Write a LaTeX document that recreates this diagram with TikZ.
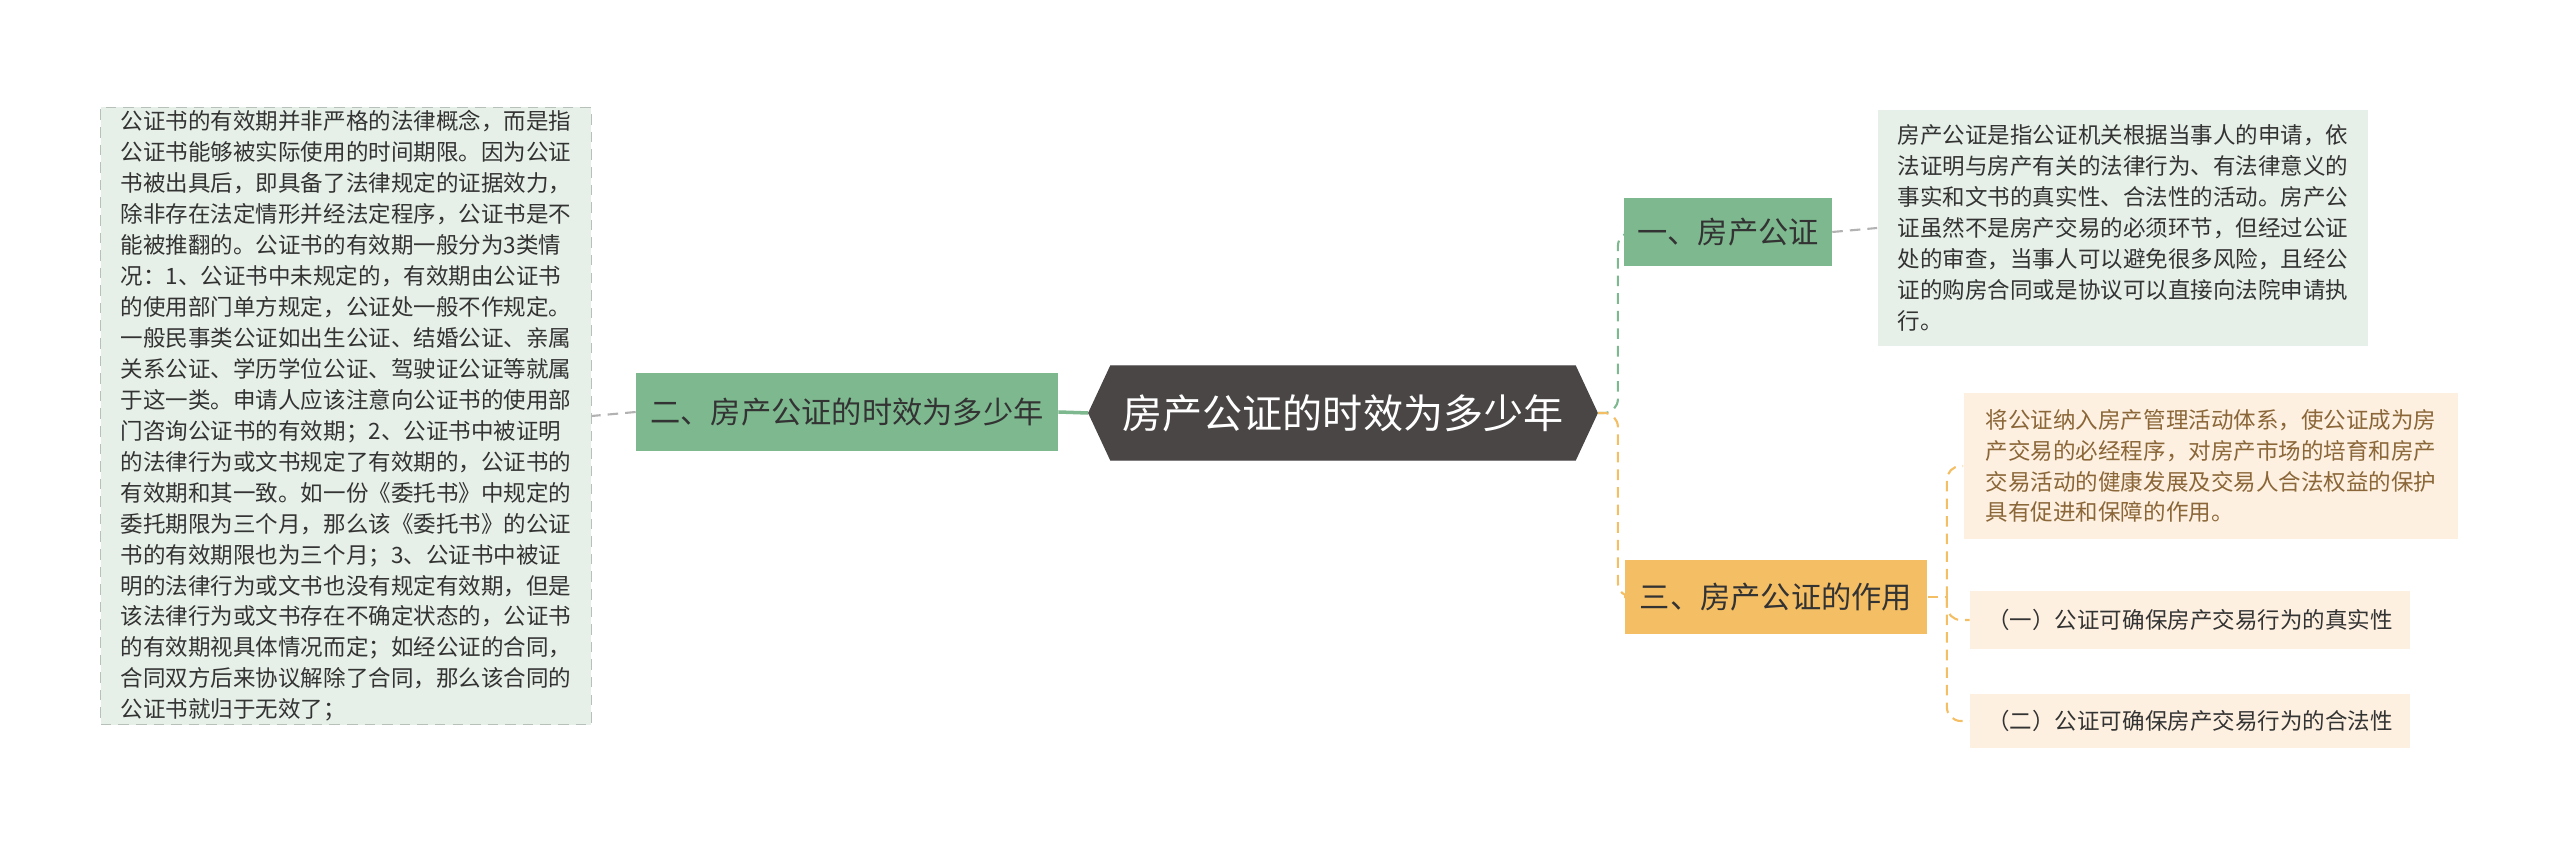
\documentclass[tikz,border=0pt]{standalone}
\usepackage{fontspec}
\setmainfont{Noto Sans CJK SC}
\usetikzlibrary{shapes.symbols}
\definecolor{hubgray}{HTML}{4A4646}
\definecolor{leafgreen}{HTML}{7DB88F}
\definecolor{palegreen}{HTML}{E6F0E8}
\definecolor{leaforange}{HTML}{F3BE64}
\definecolor{paleorange}{HTML}{FDF0E0}
\definecolor{txtbrown}{HTML}{8A6638}
\tikzset{
  topic/.style={minimum height=0.7cm, inner sep=3pt, font=\fontsize{8.6pt}{10pt}\selectfont, text=black!80},
  notebox/.style={align=left, inner sep=0pt, font=\fontsize{6.4pt}{8.8pt}\selectfont, text=black!80},
  link/.style={line width=0.6pt, dashed, dash pattern=on 3pt off 2pt}
}
\begin{document}
\begin{tikzpicture}[x=0.01cm,y=-0.01cm]
    \useasboundingbox (0,0) rectangle (2560,849);
    % centre
    \node[shape=signal, signal to=west and east, signal pointer angle=130, fill=hubgray, draw=hubgray, text=white,
          minimum width=4.82cm, minimum height=0.94cm, font=\fontsize{11.4pt}{13pt}\selectfont] (hub) at (1343,413) {房产公证的时效为多少年};
    % left branch
    \node[topic, fill=leafgreen, minimum width=4.21cm, minimum height=0.77cm] (two) at (847,412) {二、房产公证的时效为多少年};
    \node[fill=palegreen, draw=palegreen!80!black, densely dashed, line width=0.3pt, minimum width=4.9cm, minimum height=6.17cm] (twobox) at (346,416) {};
    \node[notebox] at (twobox.center) {公证书的有效期并非严格的法律概念，而是指\\公证书能够被实际使用的时间期限。因为公证\\书被出具后，即具备了法律规定的证据效力，\\除非存在法定情形并经法定程序，公证书是不\\能被推翻的。公证书的有效期一般分为3类情\\况：1、公证书中未规定的，有效期由公证书\\的使用部门单方规定，公证处一般不作规定。\\一般民事类公证如出生公证、结婚公证、亲属\\关系公证、学历学位公证、驾驶证公证等就属\\于这一类。申请人应该注意向公证书的使用部\\门咨询公证书的有效期；2、公证书中被证明\\的法律行为或文书规定了有效期的，公证书的\\有效期和其一致。如一份《委托书》中规定的\\委托期限为三个月，那么该《委托书》的公证\\书的有效期限也为三个月；3、公证书中被证\\明的法律行为或文书也没有规定有效期，但是\\该法律行为或文书存在不确定状态的，公证书\\的有效期视具体情况而定；如经公证的合同，\\合同双方后来协议解除了合同，那么该合同的\\公证书就归于无效了；};
    \draw[leafgreen, line width=1pt] (hub.west) -- (two.east);
    \draw[link, gray!60] (two.west) -- (twobox.east);
    % right branch one
    \node[topic, fill=leafgreen, minimum width=2.07cm, minimum height=0.68cm] (one) at (1728,232) {一、房产公证};
    \node[fill=palegreen, minimum width=4.9cm, minimum height=2.35cm] (onebox) at (2123,228) {};
    \node[notebox] at (onebox.center) {房产公证是指公证机关根据当事人的申请，依\\法证明与房产有关的法律行为、有法律意义的\\事实和文书的真实性、合法性的活动。房产公\\证虽然不是房产交易的必须环节，但经过公证\\处的审查，当事人可以避免很多风险，且经公\\证的购房合同或是协议可以直接向法院申请执\\行。};
    \draw[link, leafgreen, rounded corners=4pt] (hub.east) -- ++(20,0) |- (one.west);
    \draw[link, gray!60] (one.east) -- (onebox.west);
    % right branch three
    \node[topic, fill=leaforange, minimum width=3.02cm, minimum height=0.74cm] (three) at (1776,597) {三、房产公证的作用};
    \node[fill=paleorange, minimum width=4.94cm, minimum height=1.45cm] (threea) at (2211,466) {};
    \node[notebox, text=txtbrown] at (threea.center) {将公证纳入房产管理活动体系，使公证成为房\\产交易的必经程序，对房产市场的培育和房产\\交易活动的健康发展及交易人合法权益的保护\\具有促进和保障的作用。};
    \node[notebox, fill=paleorange, align=center, minimum width=4.39cm, minimum height=0.57cm] (threeb) at (2190,620) {（一）公证可确保房产交易行为的真实性};
    \node[notebox, fill=paleorange, align=center, minimum width=4.39cm, minimum height=0.54cm] (threec) at (2190,721) {（二）公证可确保房产交易行为的合法性};
    \draw[link, leaforange, rounded corners=4pt] (hub.east) -- ++(20,0) |- (three.west);
    \draw[link, leaforange] (three.east) -- ++(19,0) coordinate (fork);
    \draw[link, leaforange, rounded corners=4pt] (fork) |- (threea.west);
    \draw[link, leaforange, rounded corners=4pt] (fork) |- (threeb.west);
    \draw[link, leaforange, rounded corners=4pt] (fork) |- (threec.west);
\end{tikzpicture}
\end{document}
